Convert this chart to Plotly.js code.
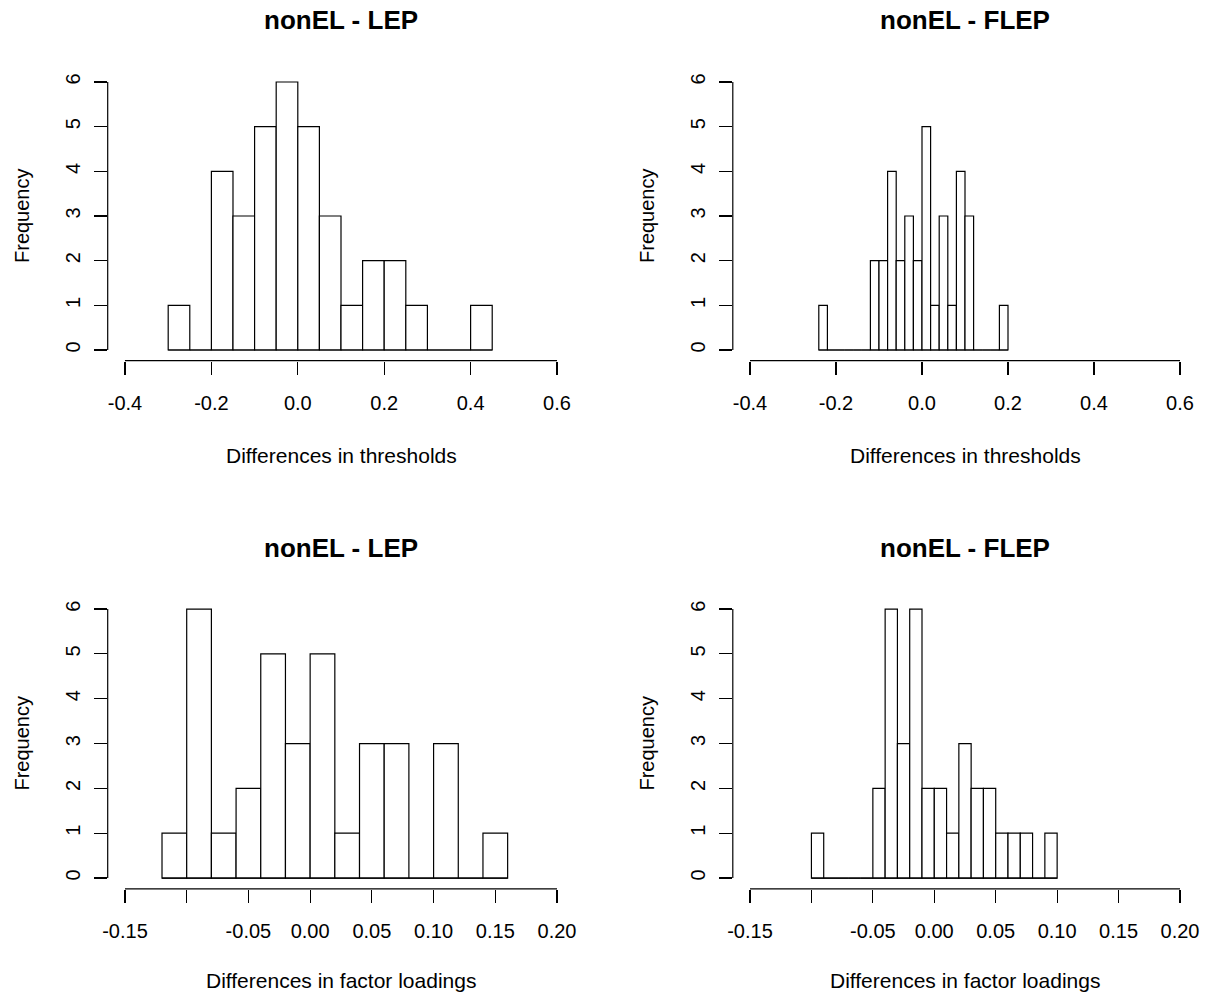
<!DOCTYPE html>
<html>
<head>
<meta charset="utf-8">
<script src="https://cdn.plot.ly/plotly-3.0.1.min.js"></script>
<style>html,body{margin:0;padding:0;background:#fff;}#chart{width:1205px;height:997px;}</style>
</head>
<body>
<div id="chart"></div>
<script>
// ---- data ----
const titles = ["nonEL - LEP", "nonEL - FLEP", "nonEL - LEP", "nonEL - FLEP"];
const xTitles = ["Differences in thresholds", "Differences in thresholds",
                 "Differences in factor loadings", "Differences in factor loadings"];
const yTitle = "Frequency";

// panel 1: top-left, bin width 0.05
const p1Edges = [-0.30,-0.25,-0.20,-0.15,-0.10,-0.05,0.00,0.05,0.10,0.15,0.20,0.25,0.30,0.35,0.40];
const p1Counts = [1,0,4,3,5,6,5,3,1,2,2,1,0,0,1];
const p1Width = 0.05;

// panel 2: top-right, bin width 0.02
const p2Edges = [-0.24,-0.22,-0.20,-0.18,-0.16,-0.14,-0.12,-0.10,-0.08,-0.06,-0.04,-0.02,0.00,0.02,0.04,0.06,0.08,0.10,0.12,0.14,0.16,0.18];
const p2Counts = [1,0,0,0,0,0,2,2,4,2,3,2,5,1,3,1,4,3,0,0,0,1];
const p2Width = 0.02;

// panel 3: bottom-left, bin width 0.02
const p3Edges = [-0.12,-0.10,-0.08,-0.06,-0.04,-0.02,0.00,0.02,0.04,0.06,0.08,0.10,0.12,0.14];
const p3Counts = [1,6,1,2,5,3,5,1,3,3,0,3,0,1];
const p3Width = 0.02;

// panel 4: bottom-right, bin width 0.01
const p4Edges = [-0.10,-0.09,-0.08,-0.07,-0.06,-0.05,-0.04,-0.03,-0.02,-0.01,0.00,0.01,0.02,0.03,0.04,0.05,0.06,0.07,0.08,0.09];
const p4Counts = [1,0,0,0,0,2,6,3,6,2,2,1,3,2,2,1,1,1,0,1];
const p4Width = 0.01;

// tick labels
const topTickVals = [-0.4,-0.2,0.0,0.2,0.4,0.6];
const topTickText = ["-0.4","-0.2","0.0","0.2","0.4","0.6"];
const botTickVals = [-0.15,-0.10,-0.05,0.00,0.05,0.10,0.15,0.20];
const botTickText = ["-0.15","","-0.05","0.00","0.05","0.10","0.15","0.20"];
const yTickVals = [0,1,2,3,4,5,6];
const yTickText = ["0","1","2","3","4","5","6"];

// ---- build ----
const FONT = "Liberation Sans, Arial, sans-serif";
const panels = [
  {edges:p1Edges, counts:p1Counts, w:p1Width, tv:topTickVals, tt:topTickText},
  {edges:p2Edges, counts:p2Counts, w:p2Width, tv:topTickVals, tt:topTickText},
  {edges:p3Edges, counts:p3Counts, w:p3Width, tv:botTickVals, tt:botTickText},
  {edges:p4Edges, counts:p4Counts, w:p4Width, tv:botTickVals, tt:botTickText}
];
const W = 1205, H = 997;
const colDom = [[107.7/W, 574.3/W], [732.8/W, 1197.2/W]];
const rowDom = [[1-360.7/H, 1-71.3/H], [1-888.8/H, 1-598.3/H]];

const traces = [];
const layout = {
  width: W, height: H,
  margin: {l:0, r:0, t:0, b:0},
  paper_bgcolor: "#ffffff", plot_bgcolor: "#ffffff",
  showlegend: false,
  font: {family: FONT, color: "#000000", size: 20},
  shapes: [], annotations: []
};

panels.forEach((p, i) => {
  const ax = i === 0 ? "" : String(i + 1);
  const xa = "x" + ax, ya = "y" + ax;
  const col = i % 2, row = Math.floor(i / 2);
  traces.push({
    type: "bar", x: p.edges, y: p.counts, offset: 0, width: p.w,
    xaxis: xa, yaxis: ya,
    marker: {color: "#ffffff", line: {color: "#000000", width: 1.2}},
    hoverinfo: "x+y"
  });
  traces.push({
    type: "scatter", mode: "lines",
    x: [p.edges[0], p.edges[p.edges.length - 1] + p.w], y: [0, 0],
    xaxis: xa, yaxis: ya,
    line: {color: "#000000", width: 1.2}, hoverinfo: "skip"
  });
  const span = p.tv[p.tv.length - 1] - p.tv[0];
  const ymax = yTickVals[yTickVals.length - 1];
  layout["xaxis" + ax] = {
    domain: colDom[col], anchor: ya,
    range: [p.tv[0] - 0.04 * span, p.tv[p.tv.length - 1] + 0.04 * span],
    tickmode: "array", tickvals: p.tv, ticktext: p.tt,
    ticks: "outside", ticklen: 13, tickwidth: 1.2, tickcolor: "#000000",
    showline: false, showgrid: false, zeroline: false,
    tickfont: {family: FONT, size: 20, color: "#000000"},
    ticklabelstandoff: 11, fixedrange: true
  };
  layout["yaxis" + ax] = {
    domain: rowDom[row], anchor: xa,
    range: [-0.04 * ymax, ymax * 1.04],
    tickmode: "array", tickvals: yTickVals, ticktext: yTickText,
    ticks: "outside", ticklen: 13, tickwidth: 1.2, tickcolor: "#000000",
    tickangle: -90,
    showline: false, showgrid: false, zeroline: false,
    tickfont: {family: FONT, size: 20, color: "#000000"},
    ticklabelstandoff: 6, fixedrange: true
  };
  // R-style axis lines spanning first to last tick
  layout.shapes.push({type: "line", xref: xa, yref: ya + " domain",
    x0: p.tv[0], x1: p.tv[p.tv.length - 1], y0: 0, y1: 0,
    line: {color: "#000000", width: 1.2}});
  layout.shapes.push({type: "line", xref: xa + " domain", yref: ya,
    x0: 0, x1: 0, y0: yTickVals[0], y1: ymax,
    line: {color: "#000000", width: 1.2}});

  const cx = (colDom[col][0] + colDom[col][1]) / 2;
  const titleY = row === 0 ? 1 - 20 / H : 1 - 548 / H;
  const xTitleY = row === 0 ? 1 - 455 / H : 1 - 980 / H;
  const yTitleX = col === 0 ? 22 / W : 647 / W;
  const cy = (rowDom[row][0] + rowDom[row][1]) / 2;
  layout.annotations.push({text: "<b>" + titles[i] + "</b>", xref: "paper", yref: "paper",
    x: cx, y: titleY, xanchor: "center", yanchor: "middle", showarrow: false,
    font: {family: FONT, size: 26, color: "#000000"}});
  layout.annotations.push({text: xTitles[i], xref: "paper", yref: "paper",
    x: cx, y: xTitleY, xanchor: "center", yanchor: "middle", showarrow: false,
    font: {family: FONT, size: 21, color: "#000000"}});
  layout.annotations.push({text: yTitle, xref: "paper", yref: "paper",
    x: yTitleX, y: cy, xanchor: "center", yanchor: "middle", showarrow: false,
    textangle: -90, font: {family: FONT, size: 20, color: "#000000"}});
});

Plotly.newPlot("chart", traces, layout, {displayModeBar: false, staticPlot: true});
</script>
</body>
</html>
